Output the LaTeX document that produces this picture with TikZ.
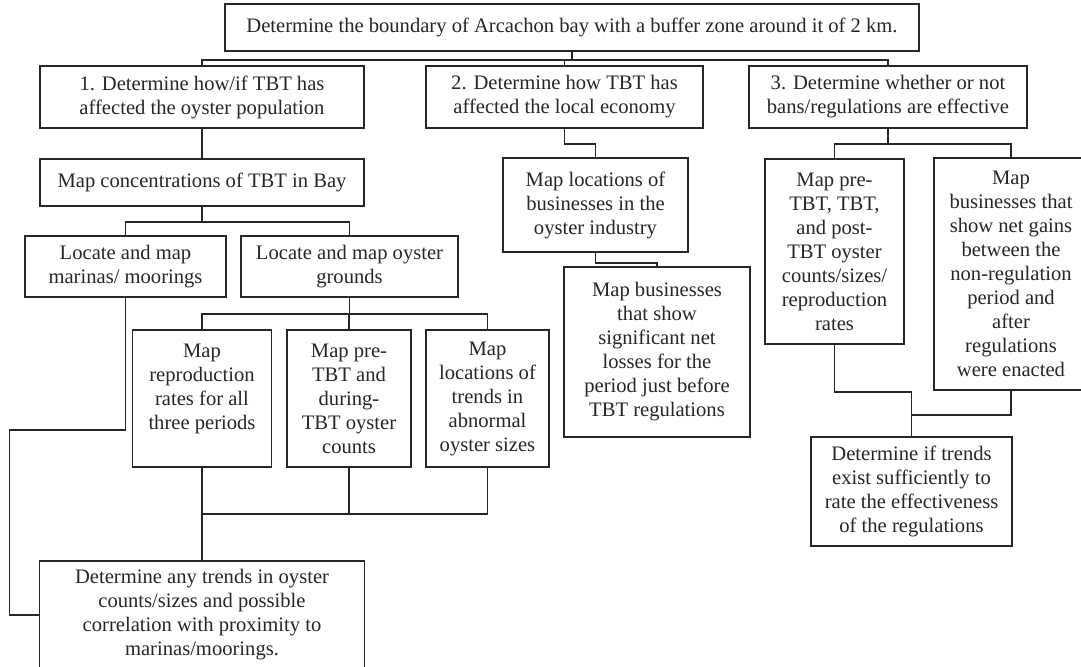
\documentclass[tikz,border=0pt]{standalone}
\usepackage{fontspec}
\setmainfont{Liberation Serif}
\usepackage{tikz}
\usetikzlibrary{calc}
\tikzset{
    stepbox/.style={draw=black!85, line width=0.9pt, align=center, inner sep=2pt,
        text=black!85, font=\fontsize{10.3pt}{12pt}\selectfont},
    link/.style={draw=black!85, line width=0.9pt}
}

\begin{document}
\begin{tikzpicture}[x=0.5pt, y=-0.5pt]
            \useasboundingbox (0,0) rectangle (1081,667);
            \clip (0,0) rectangle (1081,667);

            % 0. Study area
            \node[stepbox, minimum width=347pt, minimum height=23.5pt] (area) at (572,27.5)
                {Determine the boundary of Arcachon bay with a buffer zone around it of 2 km.};

            % 1. Oyster population
            \node[stepbox, minimum width=162pt, minimum height=31pt] (goalA) at (202,97)
                {1. Determine how/if TBT has\\affected the oyster population};
            \node[stepbox, minimum width=162pt, minimum height=23.5pt] (conc) at (202,182.5)
                {Map concentrations of TBT in Bay};
            \node[stepbox, minimum width=100.5pt, minimum height=30.5pt] (marinas) at (125.5,266.5)
                {Locate and map\\marinas/ moorings};
            \node[stepbox, minimum width=108.5pt, minimum height=30.5pt] (grounds) at (349.5,266.5)
                {Locate and map oyster\\grounds};
            \node[stepbox, minimum width=69.5pt, minimum height=68.5pt] (repro) at (202,398.5)
                {Map\\reproduction\\rates for all\\three periods\\ \mbox{}};
            \node[stepbox, minimum width=62pt, minimum height=68.5pt] (counts) at (349,398.5)
                {Map pre-\\TBT and\\during-\\TBT oyster\\counts};
            \node[stepbox, minimum width=61.5pt, minimum height=68.5pt] (sizes) at (487.5,398.5)
                {Map\\locations of\\trends in\\abnormal\\oyster sizes};
            \node[stepbox, minimum width=162.5pt, minimum height=54pt] (trends) at (202,615)
                {Determine any trends in oyster\\counts/sizes and possible\\correlation with proximity to\\marinas/moorings.};

            % 2. Local economy
            \node[stepbox, minimum width=138.5pt, minimum height=31pt] (goalB) at (564.5,97)
                {2. Determine how TBT has\\affected the local economy};
            \node[stepbox, minimum width=92.5pt, minimum height=47pt] (firms) at (595.5,205)
                {Map locations of\\businesses in the\\oyster industry};
            \node[stepbox, minimum width=93pt, minimum height=85pt] (losses) at (657,352)
                {Map businesses\\that show\\significant net\\losses for the\\period just before\\TBT regulations};

            % 3. Regulations
            \node[stepbox, minimum width=139pt, minimum height=31pt] (goalC) at (888,97)
                {3. Determine whether or not\\bans/regulations are effective};
            \node[stepbox, minimum width=69.5pt, minimum height=92.5pt] (periods) at (834.5,251.5)
                {Map pre-\\TBT, TBT,\\and post-\\TBT oyster\\counts/sizes/\\reproduction\\rates};
            \node[stepbox, minimum width=77pt, minimum height=116pt] (gains) at (1011,274)
                {Map\\businesses that\\show net gains\\between the\\non-regulation\\period and\\after\\regulations\\were enacted};
            \node[stepbox, minimum width=100.5pt, minimum height=54.5pt] (rating) at (911.5,491.5)
                {Determine if trends\\exist sufficiently to\\rate the effectiveness\\of the regulations};

            % connectors
            \draw[link] (area.south) -- ++(0,8) -| (goalA.north);
            \draw[link] (area.south) ++(0,8) -| (goalB.north);
            \draw[link] (area.south) ++(0,8) -| (goalC.north);

            \draw[link] (goalA) -- (conc);
            \draw[link] (conc.south) -- ++(0,15) -| (marinas.north);
            \draw[link] (conc.south) ++(0,15) -| (grounds.north);
            \draw[link] (grounds.south) -- ++(0,16) -| (repro.north);
            \draw[link] (grounds.south) ++(0,16) -| (counts.north);
            \draw[link] (grounds.south) ++(0,16) -| (sizes.north);
            \draw[link] (repro.south) -- (trends.north);
            \draw[link] (counts.south) -- ++(0,46) -| (repro.south);
            \draw[link] (sizes.south) -- ++(0,46) -| (counts.south);
            \draw[link] (marinas.south) -- ++(0,132) -- ++(-116,0) |- (trends.west);

            \draw[link] (goalB.south) -- ++(0,15) -| (firms.north);
            \draw[link] (firms.south) -- ++(0,10) -| (losses.north);

            \draw[link] (goalC.south) -- ++(0,15) -| (periods.north);
            \draw[link] (goalC.south) ++(0,15) -| (gains.north);
            \draw[link] (periods.south) -- ++(0,47) -| (rating.north);
            \draw[link] (gains.south) -- ++(0,24) -| (rating.north);
        \end{tikzpicture}
\end{document}
